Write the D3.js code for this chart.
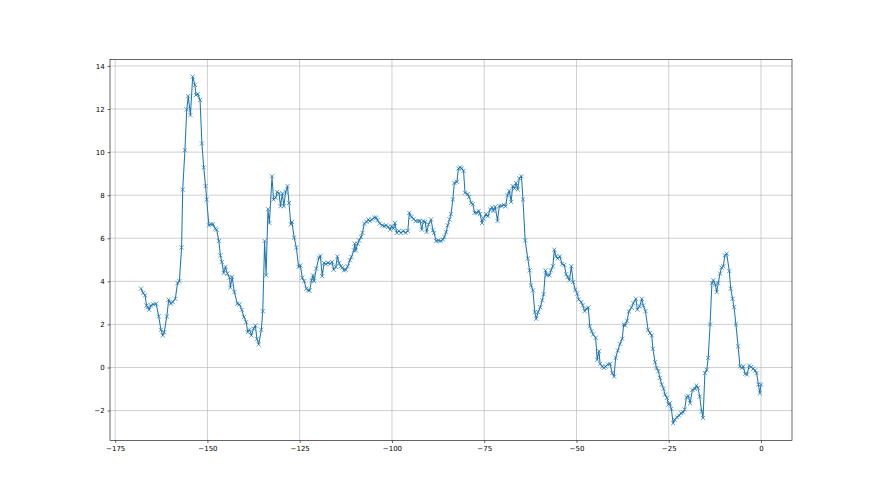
<!DOCTYPE html>
<html>
<head>
<meta charset="utf-8">
<script src="https://cdn.jsdelivr.net/npm/d3@7"></script>
<style>
  body { margin: 0; background: #fff; }
  svg { display: block; }
  .tick text { font-family: "DejaVu Sans", sans-serif; font-size: 7px; fill: #000; }
</style>
</head>
<body>
<svg width="880" height="495"></svg>
<script>
// values
var xs = [
  -168.0, -167.4, -166.9, -166.5, -166.2, -165.8, -165.3, -164.7, -163.9, -163.2,
  -162.6, -162.1, -161.7, -161.0, -160.5, -159.9, -159.4, -158.7, -158.1, -157.6,
  -157.0, -156.7, -156.1, -155.6, -155.2, -154.6, -154.0, -153.4, -153.1, -152.6,
  -152.0, -151.5, -151.0, -150.5, -150.2, -149.6, -149.0, -148.5, -147.9, -147.5,
  -146.9, -146.5, -146.1, -145.6, -145.1, -144.6, -144.0, -143.8, -143.3, -142.7,
  -141.9, -141.3, -140.7, -140.1, -139.5, -139.1, -138.6, -138.1, -137.5, -137.0,
  -136.6, -136.1, -135.4, -135.0, -134.5, -134.1, -133.6, -133.2, -132.5, -132.1,
  -131.5, -131.1, -130.6, -130.2, -129.7, -129.3, -128.8, -128.3, -127.9, -127.4,
  -127.1, -126.5, -125.9, -125.3, -124.8, -124.3, -123.8, -123.2, -122.7, -122.3,
  -121.8, -121.4, -121.1, -120.5, -119.8, -119.4, -118.9, -118.4, -117.9, -117.3,
  -116.7, -116.2, -115.8, -115.2, -114.8, -114.3, -113.9, -113.4, -113.0, -112.5,
  -112.0, -111.4, -111.0, -110.3, -110.1, -109.8, -109.3, -108.9, -108.4, -108.0,
  -107.5, -106.9, -106.4, -106.0, -105.4, -104.8, -104.3, -103.9, -103.3, -102.6,
  -102.1, -101.6, -101.0, -100.5, -100.1, -99.6, -99.2, -98.7, -98.1, -97.6,
  -96.9, -96.3, -95.7, -95.3, -94.7, -94.1, -93.6, -92.8, -92.4, -91.9,
  -91.5, -91.0, -90.6, -90.1, -89.4, -88.9, -88.6, -88.0, -87.4, -86.8,
  -86.2, -85.8, -85.3, -84.9, -84.4, -84.0, -83.5, -83.1, -82.4, -82.0,
  -81.5, -81.1, -80.6, -80.2, -79.5, -79.1, -78.5, -78.1, -77.6, -77.0,
  -76.5, -76.1, -75.6, -75.2, -74.5, -74.0, -73.4, -72.9, -72.5, -72.0,
  -71.4, -70.9, -70.3, -69.7, -69.2, -68.7, -68.2, -67.7, -67.3, -66.8,
  -66.4, -65.9, -65.5, -64.9, -64.5, -63.9, -63.2, -62.7, -62.3, -61.8,
  -61.3, -60.9, -60.4, -59.8, -59.3, -58.9, -58.4, -58.0, -57.3, -56.9,
  -56.4, -56.0, -55.5, -55.1, -54.5, -53.9, -53.3, -52.8, -52.4, -51.9,
  -51.4, -50.9, -50.3, -49.8, -49.4, -48.7, -48.3, -47.8, -47.3, -46.8,
  -46.4, -45.9, -45.5, -44.8, -44.4, -43.9, -43.6, -43.0, -42.6, -42.1,
  -41.5, -40.9, -40.3, -39.8, -39.4, -38.8, -38.2, -37.6, -37.2, -36.8,
  -36.3, -35.8, -35.1, -34.6, -33.9, -33.5, -32.9, -32.3, -31.9, -31.3,
  -30.6, -30.1, -29.6, -29.3, -28.7, -28.3, -27.8, -27.4, -26.9, -26.4,
  -26.0, -25.5, -25.1, -24.7, -24.3, -23.8, -23.4, -22.8, -22.2, -21.7,
  -21.1, -20.7, -20.2, -19.7, -19.2, -18.6, -17.9, -17.5, -17.1, -16.6,
  -16.1, -15.7, -15.2, -14.7, -14.3, -13.8, -13.3, -12.9, -12.4, -12.0,
  -11.6, -11.1, -10.7, -10.2, -9.8, -9.3, -8.6, -8.2, -7.7, -7.3,
  -6.8, -6.2, -5.7, -5.2, -4.8, -4.3, -3.8, -3.2, -2.7, -2.1,
  -1.6, -1.2, -0.7, -0.3, 0.0
];
var ys = [
  3.66, 3.46, 3.35, 2.88, 2.80, 2.68, 2.88, 2.93, 2.96, 2.37,
  1.75, 1.49, 1.64, 2.37, 3.15, 2.96, 3.04, 3.19, 3.92, 4.01,
  5.57, 8.26, 10.09, 11.98, 12.60, 11.72, 13.50, 13.12, 12.65, 12.70,
  12.42, 10.40, 9.29, 8.42, 7.80, 6.60, 6.65, 6.65, 6.45, 6.40,
  5.87, 5.21, 4.90, 4.39, 4.67, 4.36, 4.17, 3.71, 4.20, 3.50,
  2.96, 2.93, 2.68, 2.34, 2.11, 1.64, 1.75, 1.49, 1.80, 1.95,
  1.33, 1.07, 1.75, 2.62, 5.87, 4.28, 7.35, 6.71, 8.88, 7.80,
  7.89, 8.15, 8.08, 7.49, 8.08, 7.49, 8.15, 8.42, 7.64, 6.65,
  6.76, 6.03, 5.57, 4.67, 4.74, 4.17, 4.01, 3.66, 3.58, 3.58,
  4.05, 4.28, 4.01, 4.59, 5.10, 5.18, 4.24, 4.85, 4.80, 4.86,
  4.82, 4.90, 4.54, 4.67, 5.16, 4.85, 4.70, 4.64, 4.51, 4.54,
  4.70, 4.98, 5.13, 5.44, 5.75, 5.44, 5.75, 5.90, 6.06, 6.25,
  6.68, 6.76, 6.87, 6.80, 6.87, 6.96, 6.96, 6.84, 6.68, 6.60,
  6.56, 6.60, 6.53, 6.40, 6.56, 6.45, 6.71, 6.25, 6.34, 6.25,
  6.34, 6.25, 6.34, 7.18, 6.99, 6.90, 6.80, 6.80, 6.80, 6.40,
  6.80, 6.76, 6.29, 6.65, 6.87, 6.37, 6.25, 5.87, 5.90, 5.87,
  5.94, 6.06, 6.29, 6.60, 6.87, 7.12, 7.80, 8.57, 8.62, 9.24,
  9.29, 9.24, 9.13, 8.11, 8.05, 7.92, 7.64, 7.58, 7.18, 7.18,
  7.27, 7.12, 6.71, 6.92, 7.12, 7.02, 7.33, 7.43, 7.27, 7.46,
  6.80, 7.50, 7.50, 7.55, 7.48, 8.00, 8.20, 7.69, 8.42, 8.31,
  8.57, 8.26, 8.78, 8.88, 7.80, 5.90, 5.06, 4.51, 3.81, 3.58,
  2.57, 2.26, 2.57, 2.80, 3.12, 3.40, 4.51, 4.28, 4.28, 4.51,
  4.70, 5.47, 5.16, 5.06, 5.16, 4.80, 4.76, 4.33, 4.20, 4.05,
  4.70, 3.97, 3.61, 3.43, 3.15, 3.04, 2.88, 2.62, 2.73, 2.78,
  1.91, 1.69, 1.53, 1.38, 0.36, 0.76, 0.17, 0.05, -0.02, 0.05,
  0.14, 0.17, -0.26, -0.42, 0.45, 0.79, 1.10, 1.33, 2.00, 1.95,
  2.17, 2.60, 2.78, 2.99, 3.19, 2.68, 2.84, 3.19, 2.88, 2.62,
  1.75, 1.60, 1.49, 0.87, 0.25, -0.02, -0.17, -0.48, -0.79, -0.99,
  -1.26, -1.41, -1.72, -1.66, -1.92, -2.59, -2.43, -2.31, -2.23, -2.12,
  -2.08, -1.95, -1.38, -1.32, -1.66, -1.04, -0.99, -0.84, -0.94, -1.35,
  -2.03, -2.34, -0.26, -0.11, 0.45, 2.00, 3.92, 4.05, 3.86, 3.50,
  3.92, 4.36, 4.64, 4.70, 5.21, 5.29, 4.48, 3.66, 3.19, 2.80,
  2.00, 0.98, 0.05, -0.02, 0.05, -0.29, -0.33, 0.09, 0.02, -0.06,
  -0.14, -0.26, -0.79, -1.20, -0.79
];
var xTicks = [-175, -150, -125, -100, -75, -50, -25, 0];
var yTicks = [-2, 0, 2, 4, 6, 8, 10, 12, 14];

var svg = d3.select("svg"),
    margin = {top: 59.4, right: 88, bottom: 54.4, left: 110},
    width = 880 - margin.left - margin.right,
    height = 495 - margin.top - margin.bottom,
    g = svg.append("g")
      .attr("transform", "translate(" + margin.left + "," + margin.top + ")");

var data = xs.map(function(x, i) { return {x: x, y: ys[i]}; });

// 5% padding like matplotlib autoscale
var xe = d3.extent(xs), ye = d3.extent(ys);
var xp = (xe[1] - xe[0]) * 0.05, yp = (ye[1] - ye[0]) * 0.05;

var x = d3.scaleLinear().domain([xe[0] - xp, xe[1] + xp]).range([0, width]);
var y = d3.scaleLinear().domain([ye[0] - yp, ye[1] + yp]).range([height, 0]);

var fmt = function(d) { return d < 0 ? "\u2212" + Math.abs(d) : "" + d; };

// grid
g.append("g")
    .selectAll("line")
    .data(xTicks)
    .enter().append("line")
    .attr("x1", function(d) { return x(d); })
    .attr("x2", function(d) { return x(d); })
    .attr("y1", 0).attr("y2", height)
    .attr("stroke", "#b0b0b0").attr("stroke-width", 0.6);

g.append("g")
    .selectAll("line")
    .data(yTicks)
    .enter().append("line")
    .attr("y1", function(d) { return y(d); })
    .attr("y2", function(d) { return y(d); })
    .attr("x1", 0).attr("x2", width)
    .attr("stroke", "#b0b0b0").attr("stroke-width", 0.6);

// line + markers
var line = d3.line()
    .x(function(d) { return x(d.x); })
    .y(function(d) { return y(d.y); });

g.append("path")
    .datum(data)
    .attr("fill", "none")
    .attr("stroke", "#1f77b4")
    .attr("stroke-width", 1.05)
    .attr("stroke-linejoin", "round")
    .attr("d", line);

var m = 2.1;
g.append("g")
    .selectAll("path")
    .data(data)
    .enter().append("path")
    .attr("d", function(d) {
      var cx = x(d.x), cy = y(d.y);
      return "M" + (cx - m) + "," + (cy - m) + "L" + (cx + m) + "," + (cy + m) +
             "M" + (cx - m) + "," + (cy + m) + "L" + (cx + m) + "," + (cy - m);
    })
    .attr("stroke", "#1f77b4")
    .attr("stroke-width", 0.7)
    .attr("fill", "none");

// axes
var xAxis = g.append("g")
    .attr("transform", "translate(0," + height + ")")
    .call(d3.axisBottom(x).tickValues(xTicks).tickFormat(fmt).tickSize(2.4).tickPadding(3));

var yAxis = g.append("g")
    .call(d3.axisLeft(y).tickValues(yTicks).tickFormat(fmt).tickSize(2.4).tickPadding(3));

[xAxis, yAxis].forEach(function(a) {
  a.select(".domain").remove();
  a.selectAll(".tick line").attr("stroke", "#000").attr("stroke-width", 0.6);
});

// frame
g.append("rect")
    .attr("width", width)
    .attr("height", height)
    .attr("fill", "none")
    .attr("stroke", "#000")
    .attr("stroke-width", 0.6);
</script>
</body>
</html>
